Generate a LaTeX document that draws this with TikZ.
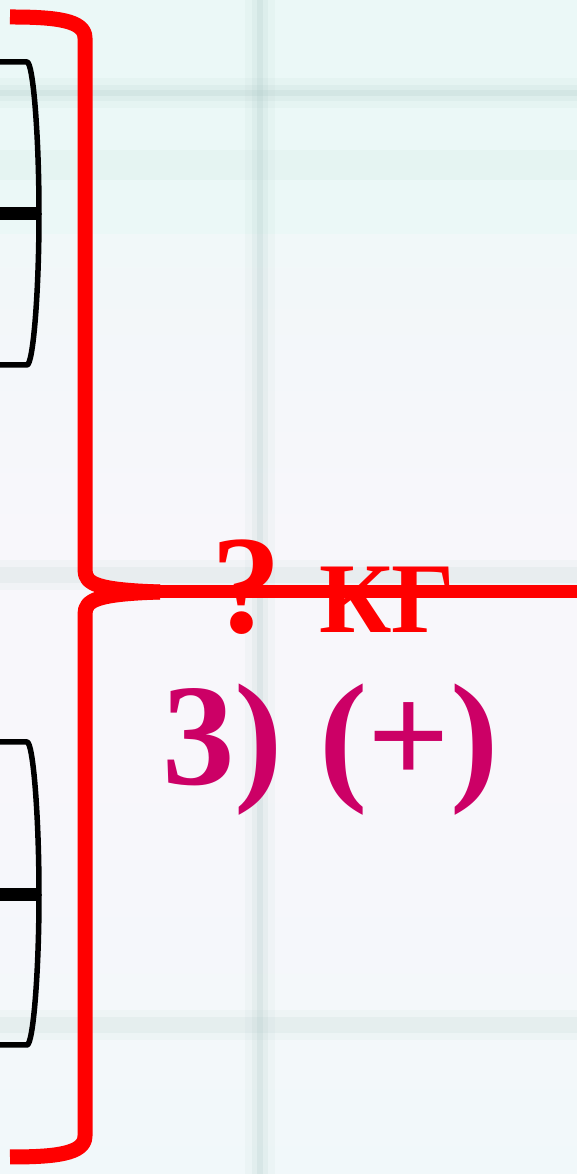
\documentclass[tikz,border=0pt]{standalone}
\usepackage{fontspec}
\setmainfont{Liberation Serif}
\usepackage{xcolor}
\usepackage{tikz}

\definecolor{rose}{HTML}{CC0066}
\definecolor{haze}{HTML}{A9C6C3}
\definecolor{mist}{HTML}{EBF8F7}
\definecolor{paper}{HTML}{F8F7FB}

\begin{document}
\begin{tikzpicture}[x=1pt, y=1pt,
  bigbrace/.style={draw=red, line width=15pt, line cap=butt, line join=round},
  redline/.style={draw=red, line width=13pt},
  smallbrace/.style={draw=black, line width=5.5pt, line join=round},
  tickline/.style={draw=black, line width=13pt},
  hazewide/.style={draw=haze, line width=30pt, draw opacity=0.08},
  hazemid/.style={draw=haze, line width=16pt, draw opacity=0.12},
  hazecore/.style={draw=haze, line width=6pt, draw opacity=0.18},
  bigtext/.style={inner sep=0pt, anchor=base west}
]
\useasboundingbox (0,0) rectangle (577,1174);

% Sfondo sfumato con la griglia sfocata
\fill[paper] (0,0) rectangle (577,1174);
\shade[top color=mist, bottom color=paper] (0,640) rectangle (577,1174);
\fill[mist] (0,940) rectangle (577,1174);
\shade[top color=paper, bottom color={rgb,255:red,241;green,248;blue,250}] (0,0) rectangle (577,400);
\draw[hazewide] (260,0) -- (260,1174);
\draw[hazemid] (260,0) -- (260,1174);
\draw[hazecore] (260,0) -- (260,1174);
\draw[hazewide] (0,1081) -- (577,1081);
\draw[hazemid] (0,1081) -- (577,1081);
\draw[hazecore] (0,1081) -- (577,1081);
\draw[hazewide] (0,1009) -- (577,1009);
\draw[hazewide] (0,599) -- (577,599);
\draw[hazemid] (0,599) -- (577,599);
\draw[hazewide] (0,149) -- (577,149);
\draw[hazemid] (0,149) -- (577,149);

% Parentesi nere a sinistra
\draw[smallbrace] (0,1112) -- (27,1112) .. controls (33,1112) and (39,1040) .. (39,960)
  .. controls (39,880) and (33,809) .. (27,809) -- (0,809);
\draw[tickline] (0,960) -- (41,960);

\draw[smallbrace] (0,432) -- (27,432) .. controls (33,432) and (39,360) .. (39,279)
  .. controls (39,200) and (33,129) .. (27,129) -- (0,129);
\draw[tickline] (0,279) -- (41,279);

% Graffa rossa e linea
\coordinate (tip) at (160,582);
\coordinate (edge) at (577,582);
\draw[bigbrace] (10,1157) .. controls (55,1157) and (85,1154) .. (85,1136) -- (85,604)
  .. controls (85,590) and (97,584) .. (tip);
\draw[bigbrace] (tip) .. controls (97,580) and (85,574) .. (85,560) -- (85,38)
  .. controls (85,20) and (55,17) .. (10,17);
\draw[redline] (tip) -- (edge);

% Testi
\node[bigtext, text=red, font=\bfseries\fontsize{140pt}{140pt}\selectfont] (quest) at (211,541) {?};
\node[bigtext, text=red, font=\bfseries\fontsize{100pt}{100pt}\selectfont] (unit) at (319,541) {КГ};
\node[bigtext, text=rose, font=\bfseries\fontsize{145pt}{145pt}\selectfont] (answer) at (162,389) {3) (+)};

\end{tikzpicture}
\end{document}
